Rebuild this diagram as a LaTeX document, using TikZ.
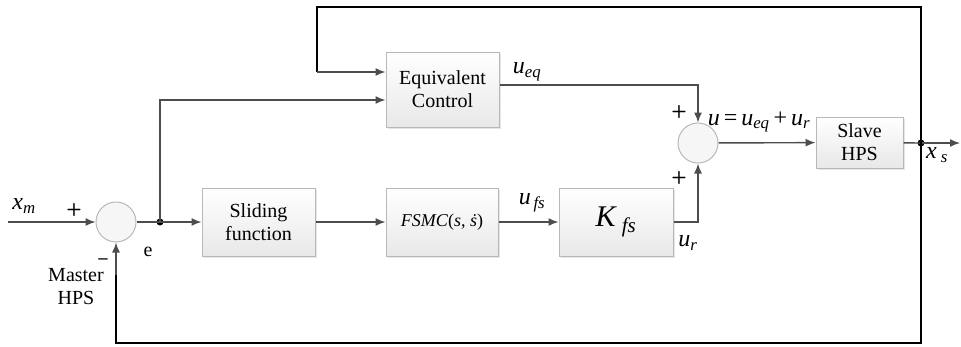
\documentclass[tikz,border=0pt]{standalone}
\usepackage{fontspec}
\setmainfont{Liberation Serif}
\usetikzlibrary{arrows.meta,shadows}
\definecolor{wirecol}{HTML}{4D4D4D}
\definecolor{boxline}{HTML}{B8B8B8}
\newcommand{\vsub}[2]{\textit{#1}\textsubscript{\textit{#2}}}
\tikzset{
  block/.style={draw=boxline, line width=1pt, top color=white, bottom color=gray!18,
    drop shadow={opacity=0.2, shadow xshift=1.5pt, shadow yshift=-1.5pt},
    align=center, inner sep=0pt, font=\fontsize{20}{23}\selectfont},
  sum/.style={circle, draw=boxline, line width=1pt, fill=gray!7, minimum size=40pt, inner sep=0pt},
  wire/.style={draw=wirecol, line width=1.4pt},
  fb/.style={draw=black, line width=1.8pt},
  sgn/.style={font=\fontsize{18}{18}\sffamily\bfseries\selectfont, inner sep=0pt},
  lbl/.style={font=\fontsize{20}{23}\selectfont, inner sep=0pt},
  var/.style={font=\fontsize{24}{26}\selectfont, inner sep=0pt}
}
\begin{document}
\begin{tikzpicture}[x=1pt,y=-1pt,>={Latex[length=10pt,width=8pt]}]
\useasboundingbox (0,0) rectangle (961,346);
% blocks
\node[sum] (sumA) at (116,222) {};
\node[sum] (sumB) at (698,143) {};
\node[block, minimum width=113pt, minimum height=68pt] (slide) at (258.5,222) {Sliding\\function};
\node[block, minimum width=112pt, minimum height=68pt, font=\fontsize{18}{20}\selectfont] (fsmc) at (442,222) {\textit{FSMC}(\textit{s}, \textit{\.{s}})};
\node[block, minimum width=114pt, minimum height=68pt, font=\fontsize{30}{32}\selectfont] (kfs) at (616,222) {\textit{K}\,\textsubscript{\textit{fs}}};
\node[block, minimum width=113pt, minimum height=75pt] (equiv) at (442.5,89.5) {Equivalent\\Control};
\node[block, minimum width=87pt, minimum height=51pt] (slave) at (859.5,142.5) {Slave\\HPS};
% junctions
\coordinate (xin) at (8,222);
\coordinate (dotE) at (160,222);
\coordinate (dotS) at (921,143);
\coordinate (xout) at (960,143);
\fill (dotE) circle (3.5);
\fill (dotS) circle (3.5);
% forward path
\draw[wire,->] (xin) -- (sumA);
\draw[wire] (sumA) -- (dotE);
\draw[wire,->] (dotE) -- (slide);
\draw[wire,->] (slide) -- (fsmc);
\draw[wire,->] (fsmc) -- (kfs);
\draw[wire,->] (kfs.east) -| (sumB.south);
\draw[wire,->] (equiv.east |- 0,85) -| (sumB.north);
\draw[wire,->] (dotE) |- (equiv.west |- 0,100);
\draw[wire,->] (sumB) -- (slave);
\draw[wire] (slave) -- (dotS);
\draw[wire,->] (dotS) -- (xout);
% feedback
\draw[fb] (dotS) -- (921,7) -- (317,7) -- (317,72);
\draw[wire,->] (317,72) -- (equiv.west |- 0,72);
\draw[fb] (dotS) -- (921,343) -- (116,343) -- (116,275);
\draw[wire,->] (116,275) -- (sumA.south);
% labels
\node[var] (lxm) at (24,206) {\vsub{x}{m}};
\node[sgn] (pA) at (74,210) {+};
\node[sgn] (mA) at (103,262) {--};
\node[lbl, align=center] (master) at (76,287) {Master\\HPS};
\node[lbl] (le) at (148,252) {e};
\node[var] (lueq) at (527,72) {\vsub{u}{eq}};
\node[var] (lufs) at (532,203) {\vsub{u}{\,fs}};
\node[var] (lur) at (688,243) {\vsub{u}{r}};
\node[sgn] (pB1) at (679,112) {+};
\node[sgn] (pB2) at (679,178) {+};
\node[var] (lu) at (759,122) {\textit{u}\,=\,\vsub{u}{eq}\,+\,\vsub{u}{r}};
\node[var] (lxs) at (937,155) {\textit{x}\,\textsubscript{\textit{s}}};
\end{tikzpicture}
\end{document}
